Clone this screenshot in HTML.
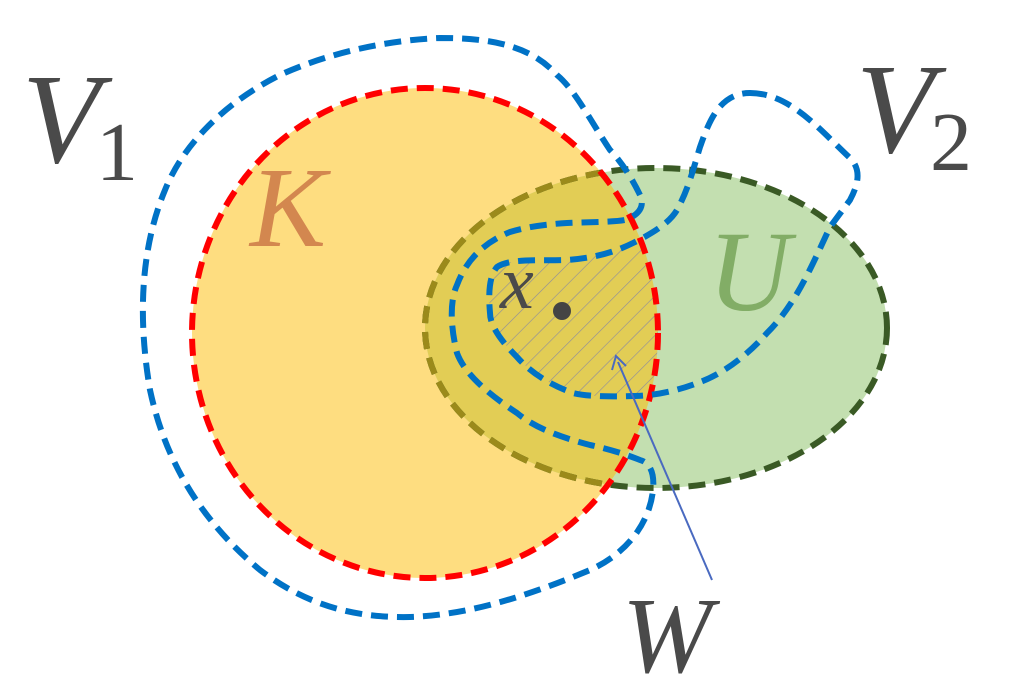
<!DOCTYPE html>
<html><head><style>html,body{margin:0;padding:0;background:#fff;width:1024px;height:689px;overflow:hidden}
.t{font-family:"Liberation Serif","DejaVu Serif",serif;font-style:italic}
.u{font-family:"Liberation Serif","DejaVu Serif",serif;font-style:normal}</style></head>
<body>
<svg width="1024" height="689" viewBox="0 0 1024 689" xmlns="http://www.w3.org/2000/svg">
<defs>
<clipPath id="kc"><ellipse cx="425" cy="333" rx="233" ry="245"/></clipPath>
<clipPath id="v2c"><path d="M750,93 C790,93 820,130 850,158 C862,170 858,185 850,200 L830,227 C810,270 795,305 767,333 C745,358 720,375 700,382 C680,390 655,396 633,396 C605,397 585,396 573,393 C550,385 530,372 517,357 C500,340 490,325 490,313 C488,290 490,275 497,267 C510,258 540,261 567,260 C595,258 615,252 633,243 C655,232 670,222 677,210 C688,190 693,170 700,147 C708,125 718,93 750,93 Z"/></clipPath>
<pattern id="hatch" width="14" height="14" patternUnits="userSpaceOnUse" patternTransform="rotate(45)"><line x1="0" y1="0" x2="0" y2="14" stroke="#8a8aa0" stroke-width="1.2"/></pattern>
</defs>
<ellipse cx="425" cy="333" rx="233" ry="245" fill="#fedd80"/>
<ellipse cx="656" cy="328" rx="231" ry="160" fill="#c3dfb0"/>
<ellipse cx="656" cy="328" rx="231" ry="160" fill="#e2cd55" clip-path="url(#kc)"/>
<ellipse cx="656" cy="328" rx="231" ry="160" fill="none" stroke="#3a5a25" stroke-width="6" stroke-dasharray="17 9"/>
<ellipse cx="656" cy="328" rx="231" ry="160" fill="none" stroke="#9b8a1b" stroke-width="6" stroke-dasharray="17 9" clip-path="url(#kc)"/>
<g clip-path="url(#kc)"><rect x="480" y="250" width="200" height="160" fill="url(#hatch)" clip-path="url(#v2c)"/></g>
<ellipse cx="425" cy="333" rx="233" ry="245" fill="none" stroke="#ff0000" stroke-width="6" stroke-dasharray="17 9"/>
<path d="M640,195 C632,178 620,160 610,150 C590,120 575,90 557,75 C530,45 490,38 440,38 C390,40 330,52 280,75 C230,100 185,140 165,190 C140,250 138,320 150,390 C165,460 200,520 260,570 C310,608 360,618 410,617 C470,615 530,595 590,570 C630,552 650,520 653,490 C655,470 648,462 640,460 C620,452 600,447 590,445 C560,437 535,428 517,413 C490,395 465,375 457,353 C450,325 450,300 457,285 C468,255 490,240 510,232 C530,226 550,224 567,223 C590,222 615,222 625,220 C640,215 645,205 640,195 Z" fill="none" stroke="#0072c6" stroke-width="6" stroke-dasharray="17 9"/>
<path d="M750,93 C790,93 820,130 850,158 C862,170 858,185 850,200 L830,227 C810,270 795,305 767,333 C745,358 720,375 700,382 C680,390 655,396 633,396 C605,397 585,396 573,393 C550,385 530,372 517,357 C500,340 490,325 490,313 C488,290 490,275 497,267 C510,258 540,261 567,260 C595,258 615,252 633,243 C655,232 670,222 677,210 C688,190 693,170 700,147 C708,125 718,93 750,93 Z" fill="none" stroke="#0072c6" stroke-width="6" stroke-dasharray="17 9"/>
<line x1="712" y1="580" x2="618" y2="362" stroke="#4a6ac0" stroke-width="2"/>
<path d="M612,370 L616,356 L626,366" fill="none" stroke="#4a6ac0" stroke-width="2"/>
<circle cx="562" cy="311" r="9" fill="#444"/>
<text x="22" y="162" font-size="128" class="t" fill="#4a4a4a">V</text>
<text x="96" y="180" font-size="84" class="u" fill="#4a4a4a">1</text>
<text x="856" y="152" font-size="128" class="t" fill="#4a4a4a">V</text>
<text x="930" y="170" font-size="84" class="u" fill="#4a4a4a">2</text>
<text x="250" y="246" font-size="114" class="t" fill="#d3874f">K</text>
<text x="708" y="310" font-size="114" class="t" fill="#82ad66">U</text>
<text x="500" y="308" font-size="76" class="t" fill="#4a4a4a">x</text>
<text x="622" y="672" font-size="108" class="t" fill="#4a4a4a">W</text>
</svg>
</body></html>
